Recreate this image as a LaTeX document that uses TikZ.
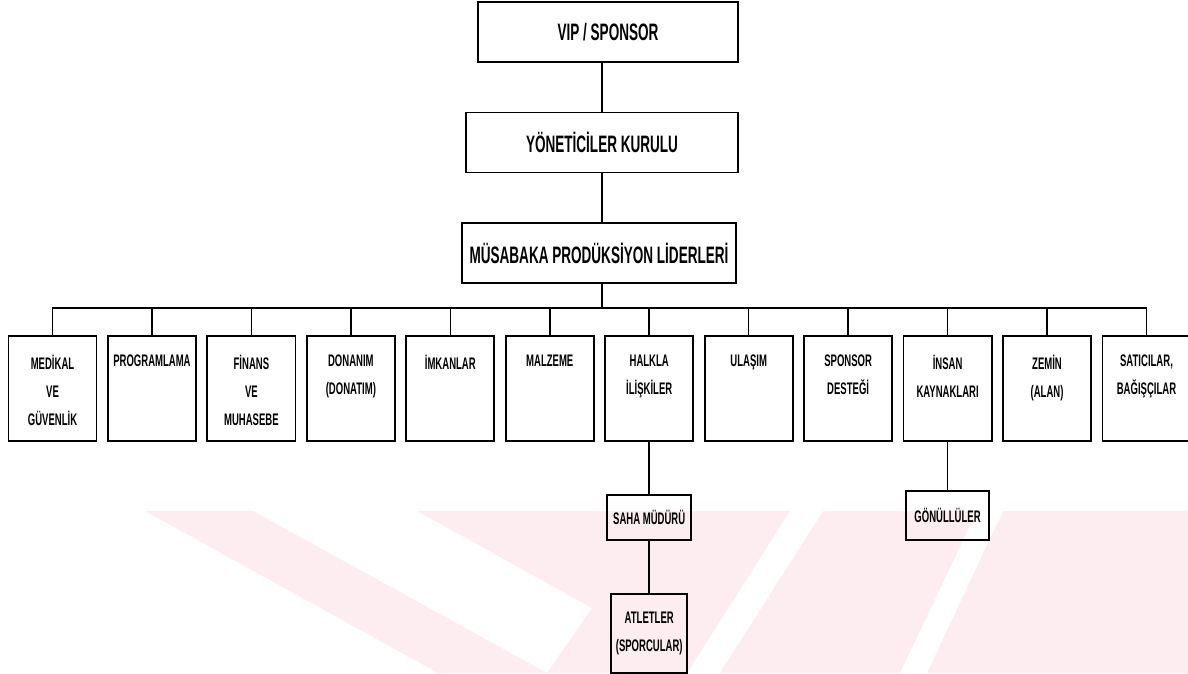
\documentclass[tikz,border=0pt]{standalone}
\usepackage{fontspec}
\setmainfont{Liberation Sans}[FakeStretch=0.57]
\usetikzlibrary{positioning}
\definecolor{wmpink}{RGB}{253,237,241}
\tikzset{
  topbox/.style={draw, line width=1.3pt, minimum height=1.5cm, inner sep=0pt,
    font=\bfseries\fontsize{16.9}{20}\selectfont},
  unitbox/.style={draw, line width=1.3pt, inner sep=0pt,
    minimum width=2.2cm, minimum height=2.625cm},
  subbox/.style={draw, line width=1.3pt, inner sep=0pt, align=center,
    font=\bfseries\fontsize{11.9}{19.9}\selectfont},
  link/.style={line width=1.1pt},
  stripe/.style={fill=wmpink, draw=none}
}
\newcommand{\unitlabel}[1]{\parbox[c][2.625cm][t]{2.2cm}{\centering
  \bfseries\fontsize{11.9}{19.9}\selectfont\vspace*{0.47cm}#1}}

\begin{document}
\begin{tikzpicture}[x=0.025cm,y=-0.025cm, node distance=0.24cm]
  \useasboundingbox (0,0) rectangle (1188,673);
  % faint watermark behind the chart
  \fill[stripe] (145,511) -- (253,511) -- (547,673) -- (438,673) -- cycle;
  \fill[stripe] (417,511) -- (790,511) -- (687,673) -- (547,673) -- (592,608) -- cycle;
  \fill[stripe] (823,511) -- (977,511) -- (900,673) -- (720,673) -- cycle;
  \fill[stripe] (1003,511) -- (1188,511) -- (1188,673) -- (927,673) -- cycle;

  % top of the chart
  \node[topbox, minimum width=6.5cm] (vip) at (608,32) {VIP / SPONSOR};
  \node[topbox, minimum width=6.8cm] (board) at (602,142.5) {YÖNETİCİLER KURULU};
  \node[topbox, minimum width=6.85cm] (leaders) at (599,253) {MÜSABAKA PRODÜKSİYON LİDERLERİ};
  \draw[link] (board.north) -- (board.north |- vip.south);
  \draw[link] (leaders.north -| board.south) -- (board.south);
  \coordinate (bus) at (602,308);
  \draw[link] (leaders.south -| bus) -- (bus);

  % units
  \node[unitbox, anchor=north] (u1) at (52.5,335) {\unitlabel{MEDİKAL\\VE\\GÜVENLİK}};
  \node[unitbox, right=of u1] (u2) {\unitlabel{PROGRAMLAMA}};
  \node[unitbox, right=of u2] (u3) {\unitlabel{FİNANS\\VE\\MUHASEBE}};
  \node[unitbox, right=of u3] (u4) {\unitlabel{DONANIM\\(DONATIM)}};
  \node[unitbox, right=of u4] (u5) {\unitlabel{İMKANLAR}};
  \node[unitbox, right=of u5] (u6) {\unitlabel{MALZEME}};
  \node[unitbox, right=of u6] (u7) {\unitlabel{HALKLA\\İLİŞKİLER}};
  \node[unitbox, right=of u7] (u8) {\unitlabel{ULAŞIM}};
  \node[unitbox, right=of u8] (u9) {\unitlabel{SPONSOR\\DESTEĞİ}};
  \node[unitbox, right=of u9] (u10) {\unitlabel{İNSAN\\KAYNAKLARI}};
  \node[unitbox, right=of u10] (u11) {\unitlabel{ZEMİN\\(ALAN)}};
  \node[unitbox, right=of u11] (u12) {\unitlabel{SATICILAR,\\BAĞIŞÇILAR}};
  \draw[link] (u1.north) |- (bus) -| (u12.north);
  \foreach \i in {2,...,11}
    \draw[link] (u\i.north) -- (u\i.north |- bus);

  % lower level
  \node[subbox, minimum width=2.1cm, minimum height=1.125cm, below=1.3cm of u7] (field) {SAHA MÜDÜRÜ};
  \node[subbox, minimum width=1.9cm, minimum height=1.975cm, below=1.3cm of field] (athletes) {ATLETLER\\(SPORCULAR)};
  \node[subbox, minimum width=2.075cm, minimum height=1.225cm, below=1.2cm of u10] (volunteers) {GÖNÜLLÜLER};
  \draw[link] (u7) -- (field);
  \draw[link] (field) -- (athletes);
  \draw[link] (u10) -- (volunteers);
\end{tikzpicture}
\end{document}
